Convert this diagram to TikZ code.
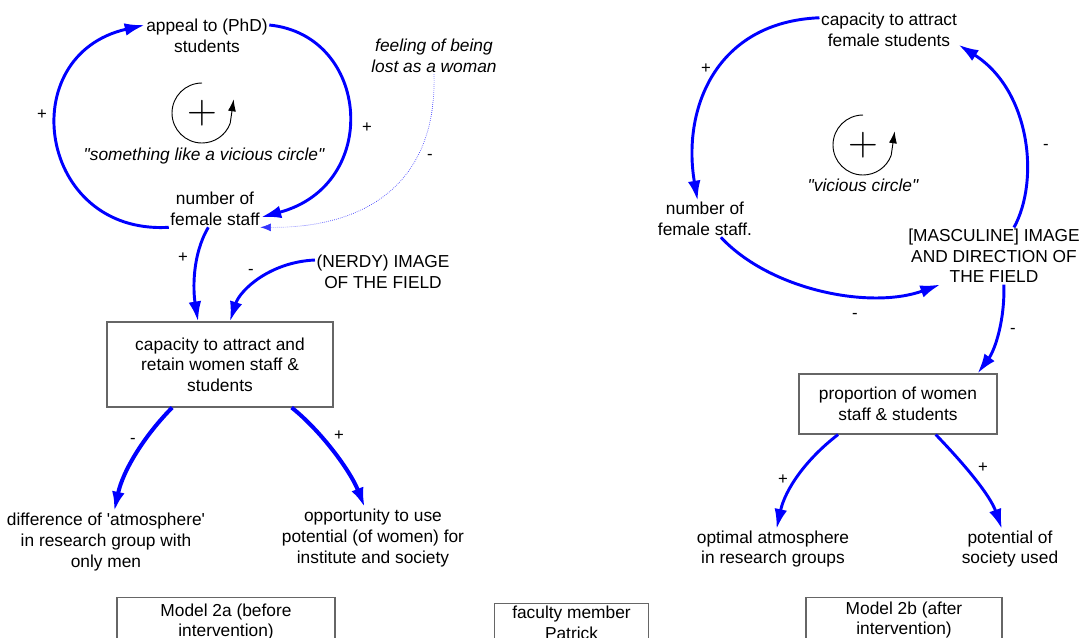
\documentclass[tikz,border=0pt]{standalone}
\usepackage{fontspec}
\setmainfont{Liberation Sans}
\newfontfamily\lmfont{Latin Modern Roman}
\usetikzlibrary{arrows.meta,positioning}

\begin{document}
\begin{tikzpicture}[
  x=0.75pt, y=0.75pt,
  every node/.style={font=\fontsize{13}{15.5}\selectfont, align=center, inner sep=1pt},
  note/.style={font=\fontsize{13}{15.5}\selectfont\itshape},
  sign/.style={font=\fontsize{12.5}{13}\selectfont},
  varbox/.style={draw=black!60, line width=0.8pt},
  link/.style={draw=blue, line width=2.2pt, -{Latex[length=15pt,width=9.5pt]}},
  thicklink/.style={link, line width=3pt},
  faint/.style={draw=blue!80, line width=0.5pt, densely dotted, -{Latex[length=8pt,width=6pt]}},
  loopsign/.style={font=\lmfont\fontsize{31}{31}\selectfont, inner sep=0pt},
  loopring/.style={draw, line width=0.7pt, -{Latex[length=9pt,width=6pt]}}
]
\useasboundingbox (0,0) rectangle (1090,-637);
\clip (0,0) rectangle (1090,-637);

% model 2a
\node (Ap) at (207,-36) {appeal to (PhD)\\students};
\node (Nf) at (215,-209) {number of\\female staff};
\node[loopsign] (Lplus) at (202,-113) {+};
\node[note] (Lname) at (204,-156) {\textquotedbl something like a vicious circle\textquotedbl};
\node[note] (Lost) at (434,-56) {feeling of being\\lost as a woman};
\node (Nerdy) at (383,-272) {(NERDY) IMAGE\\OF THE FIELD};
\node[varbox, minimum width=169.5pt, minimum height=63.75pt] (Cap) at (220,-364.5)
  {capacity to attract and\\retain women staff \&\\students};
\node (Diff) at (106,-542) {difference of \textquotesingle atmosphere\textquotesingle\\in research group with\\only men};
\node (Opp) at (373,-538) {opportunity to use\\potential (of women) for\\institute and society};
\node[varbox, anchor=north, minimum width=163.5pt, inner ysep=4.5pt] (M2a) at (226,-597)
  {Model 2a (before\\intervention)};
\node[varbox, anchor=north, minimum width=116pt, inner ysep=2pt] (Fac) at (571.5,-603)
  {faculty member\\Patrick};

\draw[loopring] (Lplus.center) ++(0,30) arc[start angle=90, end angle=340, radius=22.5pt] -- ++(3.5,24);
\draw[link] (Nf.south west) .. controls (38,-235) and (12,-55) .. (Ap.170);
\draw[link] (Ap.10) .. controls (370,-35) and (382,-185) .. (Nf.-10);
\draw[faint] (Lost.south) .. controls (437,-180) and (370,-228) .. (Nf.-22);
\draw[link] (Nf.250) .. controls (192,-255) and (193,-290) .. (Cap.117);
\draw[link] (Nerdy.170) .. controls (270,-262) and (240,-290) .. (Cap.77);
\draw[thicklink] (Cap.-138) .. controls (145,-435) and (123,-470) .. (Diff.75);
\draw[thicklink] (Cap.-31) .. controls (320,-430) and (350,-470) .. (Opp.105);

\node[sign] (sA) at (42,-115) {+};
\node[sign] (sB) at (367,-128) {+};
\node[sign] (sC) at (430,-157) {-};
\node[sign] (sD) at (183,-258) {+};
\node[sign] (sE) at (251,-272) {-};
\node[sign] (sF) at (133,-441) {-};
\node[sign] (sG) at (339,-436) {+};

% model 2b
\node (Cfs) at (889,-30) {capacity to attract\\female students};
\node (Nfr) at (705,-219) {number of\\female staff.};
\node (Masc) at (994,-256) {[MASCULINE] IMAGE\\AND DIRECTION OF\\THE FIELD};
\node[loopsign] (Rplus) at (863,-145) {+};
\node[note] (Rname) at (863,-185) {\textquotedbl vicious circle\textquotedbl};
\node[varbox, minimum width=148.5pt, minimum height=45pt] (Prop) at (898,-404)
  {proportion of women\\staff \& students};
\node (Opt) at (773,-549) {optimal atmosphere\\in research groups};
\node (Pot) at (1010,-549) {potential of\\society used};
\node[varbox, anchor=north, minimum width=147pt, inner ysep=3pt] (M2b) at (904,-597)
  {Model 2b (after\\intervention)};

\draw[loopring] (Rplus.center) ++(0,30) arc[start angle=90, end angle=340, radius=22.5pt] -- ++(3.5,24);
\draw[link] (Cfs.170) .. controls (715,-22) and (682,-110) .. (Nfr.112);
\draw[link] (Nfr.-49) .. controls (770,-290) and (870,-310) .. (Masc.208);
\draw[link] (Masc.55) .. controls (1040,-180) and (1030,-90) .. (Cfs.-12);
\draw[link] (Masc.-71) .. controls (1005,-320) and (995,-350) .. (Prop.21);
\draw[link] (Prop.-153) .. controls (805,-460) and (785,-490) .. (Opt.80);
\draw[link] (Prop.-39) .. controls (965,-465) and (990,-495) .. (Pot.112);

\node[sign] (sH) at (706,-69) {+};
\node[sign] (sI) at (1046,-147) {-};
\node[sign] (sJ) at (855,-316) {-};
\node[sign] (sK) at (1013,-331) {-};
\node[sign] (sL) at (783,-480) {+};
\node[sign] (sM) at (983,-468) {+};
\end{tikzpicture}
\end{document}
